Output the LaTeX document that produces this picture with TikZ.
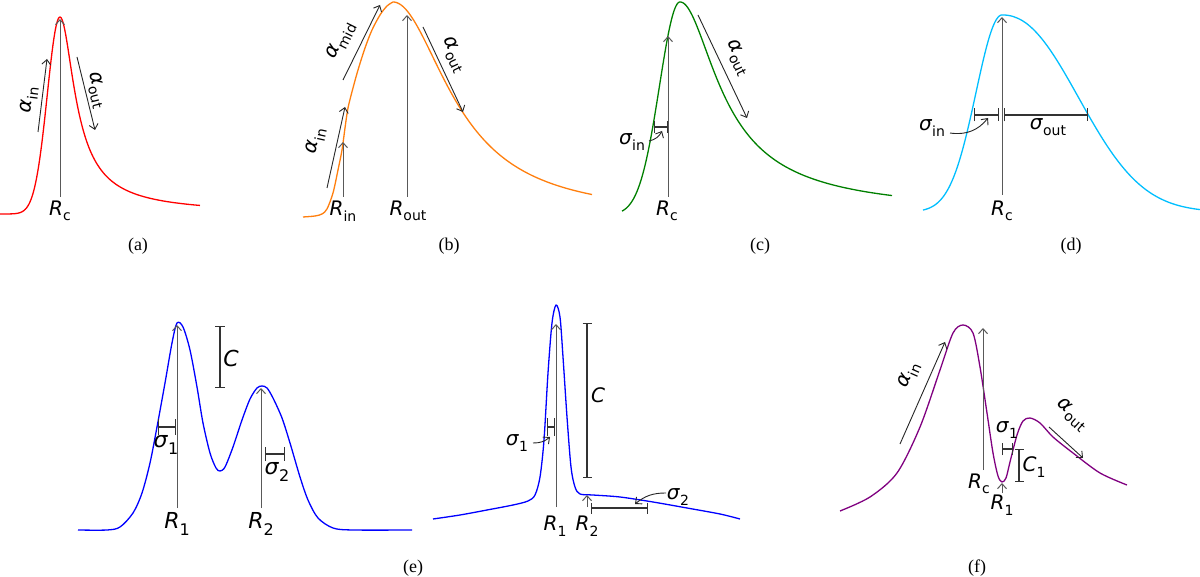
\documentclass[tikz,border=0pt]{standalone}
\usepackage{fontspec}
\setmainfont{Liberation Serif}
\newfontfamily\dvs{DejaVu Sans}[ItalicFont={DejaVu Sans Oblique}]
\usetikzlibrary{arrows.meta}
\definecolor{corange}{HTML}{FF7F0E}
\definecolor{cgreen}{HTML}{008000}
\definecolor{ccyan}{HTML}{00BFFF}
\definecolor{cpurple}{HTML}{800080}
\definecolor{cblue}{HTML}{0000FF}
\definecolor{cred}{HTML}{FF0000}
\newcommand{\sbs}[1]{\raisebox{-0.28em}{\fontsize{14}{14}\selectfont #1}}
\newcommand{\sbl}[1]{\raisebox{-0.28em}{\fontsize{16}{16}\selectfont #1}}
\tikzset{
  crv/.style={line width=1.3pt, line join=round},
  rarr/.style={draw=black!65, line width=1pt, -{Straight Barb[length=5pt,width=9pt]}},
  aarr/.style={draw=black!85, line width=0.9pt, -{Straight Barb[length=5pt,width=9pt]}},
  sbar/.style={draw=black!80, line width=1.1pt, {Bar[width=#1]}-{Bar[width=#1]}},
  sbar/.default=12pt,
  lbl/.style={font=\dvs\fontsize{20}{20}\selectfont, inner sep=0pt},
  lblL/.style={font=\dvs\fontsize{22}{22}\selectfont, inner sep=0pt},
  captxt/.style={font=\fontsize{18}{18}\selectfont, inner sep=0pt}
}
\begin{document}
\begin{tikzpicture}[x=1pt,y=-1pt]
\fill[white] (0,0) rectangle (1200,577);
\useasboundingbox (0,0) rectangle (1200,577);

% ---------- (a)
\draw[crv, cred] plot[domain=0:60, samples=70] (\x, {214-197*exp(-((\x-60)*(\x-60))/322.6)})
  -- plot[domain=60:200, samples=120] (\x, {214-197*exp(-0.7*ln(1+((\x-60)/15)*((\x-60)/15)))});
\draw[rarr] (60,197) -- (60,19);
\node[lbl] (Rca) at (60,211) {\textit{R}\sbs{c}};
\draw[aarr] (38,132) -- (47,59);
\node[lbl, rotate=83] (aina) at (29,100) {\textit{α}\sbs{in}};
\draw[aarr] (77,57) -- (95,130);
\node[lbl, rotate=-76] (aouta) at (97,90) {\textit{α}\sbs{out}};
\node[captxt] (capa) at (138,246) {(a)};

% ---------- (b)
\draw[crv, corange] plot[smooth, tension=0.5] coordinates {(303,217) (315,216) (322,214) (327,209) (333,193) (338,170) (342,150) (345,128) (348,108) (353,88) (358,70) (365,48) (372,30) (380,15) (387,6) (393,2)}
  -- plot[domain=393:592, samples=140] (\x, {217-215/(1+((\x-393)/68)*((\x-393)/68))});
\draw[rarr] (343,197) -- (343,142);
\node[lbl] (Rinb) at (343,211) {\textit{R}\sbs{in}};
\draw[rarr] (407,197) -- (407,15);
\node[lbl] (Routb) at (408,211) {\textit{R}\sbs{out}};
\draw[aarr] (327,188) -- (345,107);
\node[lbl, rotate=77.5] (ainb) at (316,141) {\textit{α}\sbs{in}};
\draw[aarr] (343,80) -- (380,5);
\node[lbl, rotate=63.7] (amidb) at (341,41) {\textit{α}\sbs{mid}};
\draw[aarr] (423,27) -- (463,112);
\node[lbl, rotate=-64.8] (aoutb) at (454,55) {\textit{α}\sbs{out}};
\node[captxt] (capb) at (449,246) {(b)};

% ---------- (c)
\draw[crv, cgreen] plot[domain=622:680, samples=70] (\x, {215-213*exp(-((\x-680)*(\x-680))/840)})
  -- plot[domain=680:892, samples=140] (\x, {215-213*exp(-0.7*ln(1+((\x-680)/39)*((\x-680)/39)))});
\draw[rarr] (668,197) -- (668,36);
\node[lbl] (Rcc) at (667,211) {\textit{R}\sbs{c}};
\draw[sbar] (654,127) -- (668,127);
\node[lbl] (sinc) at (632,142) {\textit{σ}\sbs{in}};
\draw[aarr] (649,141) to[bend right=25] (662,131);
\draw[aarr] (698,15) -- (747,118);
\node[lbl, rotate=-64.6] (aoutc) at (738,58) {\textit{α}\sbs{out}};
\node[captxt] (capc) at (760,246) {(c)};

% ---------- (d)
\draw[crv, ccyan] plot[domain=923:1002, samples=80] (\x, {212-197*exp(-((\x-1002)*(\x-1002))/1352)})
  -- plot[domain=1002.5:1200, samples=160] (\x, {212-197*exp(-exp(2.2*ln((\x-1002)/101)))});
\draw[rarr] (1002,195) -- (1002,17);
\node[lbl] (Rcd) at (1002,211) {\textit{R}\sbs{c}};
\draw[sbar=13pt] (974,115) -- (999,115);
\draw[sbar=13pt] (1004,115) -- (1088,115);
\node[lbl] (sind) at (932,128) {\textit{σ}\sbs{in}};
\draw[aarr] (950,133) to[bend right=30] (988,118);
\node[lbl] (soutd) at (1048,127) {\textit{σ}\sbs{out}};
\node[captxt] (capd) at (1071,246) {(d)};

% ---------- (e) left
\draw[crv, cblue] plot[smooth, tension=0.5] coordinates {(78,530) (107,530) (120,527) (133,513) (142,493) (150,463) (157,427) (165,383) (172,343) (177,323) (183,327) (190,350) (197,387) (203,423) (210,453) (216,468) (220,471) (225,467) (233,447) (242,420) (250,399) (257,388) (262,386) (267,388) (273,398) (282,418) (290,443) (300,477) (308,500) (318,518) (333,528) (353,530) (412,530)};
\draw[rarr] (177,508) -- (177,325);
\node[lblL] (R1e) at (177,524) {\textit{R}\sbl{1}};
\draw[rarr] (261,508) -- (261,388);
\node[lblL] (R2e) at (261,524) {\textit{R}\sbl{2}};
\draw[sbar=10pt] (220,326) -- (220,388);
\node[lblL] (Ce) at (231,358) {\textit{C}};
\draw[sbar=16pt] (158,427) -- (176,427);
\node[lblL] (s1e) at (166,445) {\textit{σ}\sbl{1}};
\draw[sbar=14pt] (265,454) -- (285,454);
\node[lblL] (s2e) at (277,472) {\textit{σ}\sbl{2}};

% ---------- (e) middle
\draw[crv, cblue] plot[smooth, tension=0.5] coordinates {(433,519) (460,515) (487,510) (513,505) (528,501) (535,495) (540,477) (544,440) (548,373) (552,323) (556,305) (560,317) (563,357) (567,417) (571,467) (575,487) (580,494) (593,495) (620,497) (653,502) (687,508) (720,514) (740,519)};
\draw[rarr] (556,507) -- (556,324);
\node[lbl] (R1m) at (555,526) {\textit{R}\sbs{1}};
\draw[rarr] (587,507) -- (587,495);
\node[lbl] (R2m) at (587,526) {\textit{R}\sbs{2}};
\draw[sbar=9pt] (587,323) -- (587,478);
\node[lbl] (Cm) at (598,395) {\textit{C}};
\draw[sbar=18pt] (547,427) -- (555,427);
\node[lbl] (s1m) at (517,443) {\textit{σ}\sbs{1}};
\draw[aarr] (533,443) to[bend right=20] (550,437);
\draw[sbar=11pt] (591,508) -- (648,508);
\node[lbl] (s2m) at (678,497) {\textit{σ}\sbs{2}};
\draw[aarr] (666,493) to[bend right=20] (635,504);
\node[captxt] (cape) at (413,568) {(e)};

% ---------- (f)
\draw[crv, cpurple] plot[smooth, tension=0.5] coordinates {(840,511) (870,497) (897,473) (920,427) (940,370) (953,333) (963,325) (973,333) (980,367) (987,413) (993,453) (998,476) (1002,482) (1006,478) (1010,462) (1017,435) (1023,421) (1030,418) (1040,423) (1053,437) (1073,453) (1100,473) (1127,485)};
\draw[rarr] (983,470) -- (983,328);
\node[lbl] (Rcf) at (979,484) {\textit{R}\sbs{c}};
\draw[rarr] (1002,493) -- (1002,483);
\node[lbl] (R1f) at (1002,505) {\textit{R}\sbs{1}};
\draw[aarr] (900,444) -- (945,342);
\node[lbl, rotate=66.2] (ainf) at (909,375) {\textit{α}\sbs{in}};
\draw[aarr] (1049,427) -- (1083,458);
\node[lbl, rotate=-42] (aoutf) at (1072,415) {\textit{α}\sbs{out}};
\draw[sbar=12pt] (1002,449) -- (1013,449);
\node[lbl] (s1f) at (1007,430) {\textit{σ}\sbs{1}};
\draw[sbar=9pt] (1019,449) -- (1019,482);
\node[lbl] (C1f) at (1034,467) {\textit{C}\sbs{1}};
\node[captxt] (capf) at (977,568) {(f)};
\end{tikzpicture}
\end{document}
